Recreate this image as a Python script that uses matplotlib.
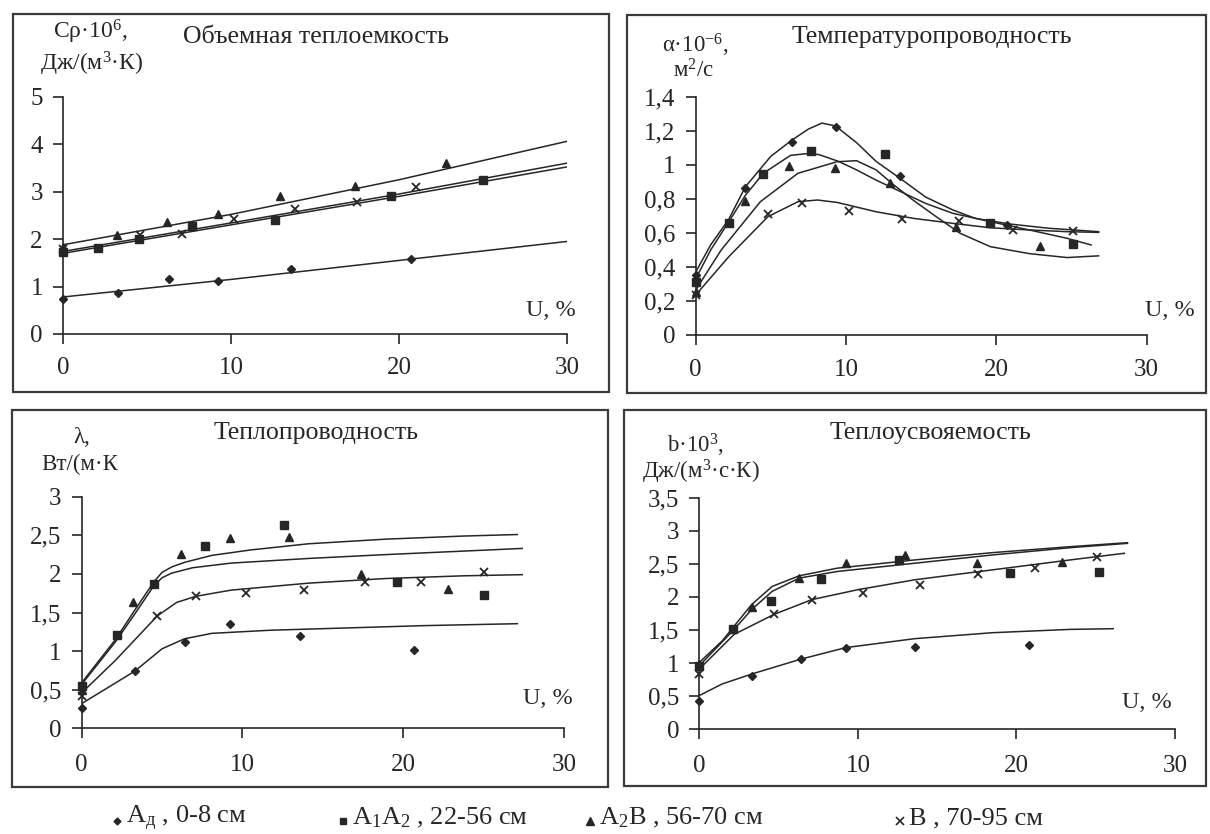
import matplotlib
matplotlib.use('Agg')
import matplotlib.pyplot as plt
from matplotlib.patches import Rectangle

plt.rcParams['font.family'] = ['Liberation Serif', 'DejaVu Serif']
plt.rcParams['mathtext.fontset'] = 'custom'
plt.rcParams['mathtext.rm'] = 'Liberation Serif'
plt.rcParams['mathtext.it'] = 'Liberation Serif'
plt.rcParams['mathtext.bf'] = 'Liberation Serif:bold'

# ---------------- data ----------------
# Panel 1: volumetric heat capacity
cp_u_d = [0, 3.3, 6.3, 9.2, 13.6, 20.7]
cp_v_d = [0.74, 0.86, 1.16, 1.11, 1.37, 1.57]
cp_u_s = [0, 2.1, 4.5, 7.7, 12.6, 19.5, 25.0]
cp_v_s = [1.73, 1.81, 2.0, 2.28, 2.40, 2.90, 3.25]
cp_u_t = [0, 3.2, 6.2, 9.2, 12.9, 17.4, 22.8]
cp_v_t = [1.84, 2.08, 2.37, 2.53, 2.91, 3.11, 3.60]
cp_u_x = [0, 4.6, 7.1, 10.2, 13.8, 17.5, 21.0]
cp_v_x = [1.79, 2.08, 2.11, 2.43, 2.64, 2.78, 3.09]
cp_fit_u = [0, 10, 20, 30]
cp_fit_d = [0.78, 1.15, 1.55, 1.95]
cp_fit_s = [1.70, 2.30, 2.90, 3.52]
cp_fit_t = [1.88, 2.52, 3.25, 4.06]
cp_fit_x = [1.74, 2.34, 2.95, 3.60]

# Panel 2: thermal diffusivity
a_u_d = [0, 3.3, 6.4, 9.3, 13.6, 20.7]
a_v_d = [0.35, 0.865, 1.136, 1.224, 0.936, 0.646]
a_u_s = [0, 2.2, 4.5, 7.7, 12.6, 19.6, 25.1]
a_v_s = [0.31, 0.656, 0.946, 1.083, 1.063, 0.66, 0.535]
a_u_t = [0, 3.25, 6.2, 9.25, 12.9, 17.3, 22.9]
a_v_t = [0.255, 0.787, 0.99, 0.98, 0.895, 0.636, 0.52]
a_u_x = [0, 4.8, 7.1, 10.2, 13.75, 17.5, 21.1, 25.1]
a_v_x = [0.235, 0.71, 0.777, 0.73, 0.68, 0.67, 0.617, 0.613]
a_fit_d_u = [0, 1, 2.2, 3.3, 5.0, 6.4, 7.5, 8.4, 9.3, 10.7, 12.0, 13.6, 15.3, 17.1, 18.6, 20.9, 23.5, 26.8]
a_fit_d_v = [0.37, 0.53, 0.68, 0.87, 1.05, 1.145, 1.21, 1.245, 1.228, 1.13, 1.02, 0.92, 0.81, 0.735, 0.685, 0.652, 0.627, 0.607]
a_fit_s_u = [0, 1, 2.2, 3.3, 4.5, 6.3, 7.3, 8.2, 9.5, 10.7, 12.0, 13.2, 15.3, 17.1, 19.6, 22.2, 24.7, 26.3]
a_fit_s_v = [0.33, 0.50, 0.665, 0.82, 0.95, 1.055, 1.065, 1.06, 1.02, 0.97, 0.91, 0.86, 0.773, 0.715, 0.666, 0.617, 0.568, 0.529]
a_fit_t_u = [0, 1.7, 4.3, 6.8, 9.4, 10.7, 12.0, 13.2, 14.5, 16.0, 17.6, 19.6, 22.2, 24.7, 26.8]
a_fit_t_v = [0.264, 0.5, 0.783, 0.95, 1.018, 1.024, 0.97, 0.88, 0.79, 0.695, 0.597, 0.519, 0.478, 0.455, 0.465]
a_fit_x_u = [0, 2.2, 4.8, 6.8, 8.1, 9.4, 12.0, 14.5, 17.1, 19.6, 22.2, 24.7, 26.8]
a_fit_x_v = [0.235, 0.46, 0.695, 0.783, 0.793, 0.779, 0.724, 0.685, 0.656, 0.63, 0.617, 0.607, 0.603]

# Panel 3: thermal conductivity
l_u_d = [0, 3.3, 6.4, 9.25, 13.6, 20.7]
l_v_d = [0.26, 0.74, 1.12, 1.35, 1.19, 1.01]
l_u_s = [0, 2.2, 4.5, 7.7, 12.6, 19.6, 25.0]
l_v_s = [0.55, 1.21, 1.875, 2.36, 2.635, 1.90, 1.73]
l_u_t = [0, 3.2, 6.2, 9.25, 12.9, 17.4, 22.8]
l_v_t = [0.50, 1.64, 2.26, 2.47, 2.48, 2.0, 1.81]
l_u_x = [0, 4.7, 7.1, 10.25, 13.8, 17.6, 21.1, 25.0]
l_v_x = [0.42, 1.455, 1.71, 1.755, 1.79, 1.90, 1.90, 2.03]
l_fit_t_u = [0, 2.1, 3.3, 4.5, 5.0, 5.6, 6.4, 8.1, 10.5, 14.1, 18.9, 23.7, 27.1]
l_fit_t_v = [0.59, 1.15, 1.53, 1.90, 2.02, 2.09, 2.15, 2.24, 2.31, 2.39, 2.45, 2.49, 2.51]
l_fit_s_u = [0, 2.1, 3.3, 4.5, 5.0, 5.6, 6.9, 9.3, 14.1, 18.9, 23.7, 27.4]
l_fit_s_v = [0.57, 1.12, 1.48, 1.85, 1.95, 2.01, 2.08, 2.14, 2.20, 2.25, 2.295, 2.33]
l_fit_x_u = [0, 2.1, 4.7, 5.9, 7.1, 9.3, 14.1, 18.9, 23.7, 27.4]
l_fit_x_v = [0.46, 0.88, 1.455, 1.63, 1.71, 1.79, 1.88, 1.94, 1.975, 1.99]
l_fit_d_u = [0, 3.3, 5.0, 6.4, 8.1, 11.7, 16.5, 21.3, 27.1]
l_fit_d_v = [0.32, 0.74, 1.03, 1.16, 1.23, 1.27, 1.30, 1.33, 1.355]

# Panel 4: thermal effusivity
b_u_d = [0, 3.3, 6.4, 9.25, 13.6, 20.8]
b_v_d = [0.435, 0.81, 1.06, 1.23, 1.245, 1.27]
b_u_s = [0, 2.1, 4.5, 7.7, 12.6, 19.6, 25.2]
b_v_s = [0.96, 1.51, 1.945, 2.275, 2.56, 2.36, 2.38]
b_u_t = [0, 3.3, 6.3, 9.25, 12.95, 17.5, 22.9]
b_v_t = [0.98, 1.85, 2.285, 2.51, 2.635, 2.51, 2.535]
b_u_x = [0, 4.7, 7.1, 10.3, 13.9, 17.6, 21.2, 25.1]
b_v_x = [0.835, 1.735, 1.96, 2.06, 2.185, 2.345, 2.435, 2.605]
b_fit_t_u = [0, 1.44, 2.2, 3.3, 4.6, 6.3, 8.7, 13.6, 18.5, 23.4, 27.0]
b_fit_t_v = [1.01, 1.335, 1.56, 1.885, 2.16, 2.32, 2.435, 2.56, 2.67, 2.76, 2.82]
b_fit_s_u = [0, 2.2, 3.3, 4.6, 6.3, 8.7, 13.6, 18.5, 23.4, 27.0]
b_fit_s_v = [0.96, 1.51, 1.81, 2.085, 2.285, 2.385, 2.51, 2.635, 2.745, 2.81]
b_fit_x_u = [0, 2.2, 4.7, 7.1, 10.0, 13.6, 18.5, 23.4, 26.8]
b_fit_x_v = [0.91, 1.435, 1.735, 1.96, 2.11, 2.26, 2.41, 2.56, 2.66]
b_fit_d_u = [0, 1.44, 3.3, 6.4, 9.25, 13.6, 18.5, 23.4, 26.1]
b_fit_d_v = [0.51, 0.685, 0.835, 1.06, 1.235, 1.37, 1.46, 1.51, 1.52]

x_ticks = [0, 10, 20, 30]
cp_ticks = [0, 1, 2, 3, 4, 5]
cp_labels = ['0', '1', '2', '3', '4', '5']
a_ticks = [0, 0.2, 0.4, 0.6, 0.8, 1.0, 1.2, 1.4]
a_labels = ['0', '0,2', '0,4', '0,6', '0,8', '1', '1,2', '1,4']
l_ticks = [0, 0.5, 1, 1.5, 2, 2.5, 3]
l_labels = ['0', '0,5', '1', '1,5', '2', '2,5', '3']
b_ticks = [0, 0.5, 1, 1.5, 2, 2.5, 3, 3.5]
b_labels = ['0', '0,5', '1', '1,5', '2', '2,5', '3', '3,5']

legend_labels = [r'A$_{\mathrm{д}}$ , 0-8 см', r'A$_{1}$A$_{2}$ , 22-56 см',
                 r'A$_{2}$B , 56-70 см', r'B , 70-95 см']

# ---------------- drawing ----------------
INK = '#262626'
W, H = 1210, 834
fig = plt.figure(figsize=(12.1, 8.34), dpi=100)


def fx(px):
    return px / W


def fy(py):
    return 1 - py / H


def frame(x0, y0, x1, y1):
    fig.patches.append(Rectangle((fx(x0), fy(y1)), fx(x1) - fx(x0), fy(y0) - fy(y1),
                                 transform=fig.transFigure, fill=False,
                                 edgecolor='#3a3a3a', linewidth=1.6))


def make_axes(px0, px30, py0, pytop, ytop, yticks, ylabels, xpad):
    ax = fig.add_axes([fx(px0), fy(py0), fx(px30) - fx(px0), fy(pytop) - fy(py0)])
    ax.set_xlim(0, 30)
    ax.set_ylim(0, ytop)
    ax.patch.set_alpha(0)
    for s in ['top', 'right']:
        ax.spines[s].set_visible(False)
    for s in ['left', 'bottom']:
        ax.spines[s].set_color(INK)
        ax.spines[s].set_linewidth(1.2)
    ax.set_xticks(x_ticks)
    ax.set_xticklabels([str(t) for t in x_ticks])
    ax.set_yticks(yticks)
    ax.set_yticklabels(ylabels)
    ax.tick_params(axis='both', direction='out', length=7, width=1.2, color=INK,
                   labelsize=18, labelcolor=INK)
    ax.tick_params(axis='x', pad=xpad)
    ax.tick_params(axis='y', pad=7.5)
    return ax


def series(ax, u, v, marker, ms):
    kw = dict(color=INK, linestyle='none', marker=marker, markersize=ms,
              clip_on=False, zorder=5)
    if marker == 'x':
        kw['markeredgewidth'] = 1.3
    ax.plot(u, v, **kw)


def curve(ax, u, v):
    ax.plot(u, v, color=INK, linewidth=1.1, zorder=3, solid_joinstyle='round')


MS = {'D': 4.5, 's': 5.5, '^': 6.0, 'x': 6.0}

# frames
frame(12.7, 14, 609, 392)
frame(627, 15, 1206, 393)
frame(11.7, 410, 608, 787)
frame(624, 410, 1206, 786)

# Panel 1
ax1 = make_axes(63, 567, 334, 96.7, 5, cp_ticks, cp_labels, 9.5)
for fv in [cp_fit_d, cp_fit_s, cp_fit_t, cp_fit_x]:
    curve(ax1, cp_fit_u, fv)
series(ax1, cp_u_d, cp_v_d, 'D', MS['D'])
series(ax1, cp_u_s, cp_v_s, 's', MS['s'])
series(ax1, cp_u_t, cp_v_t, '^', MS['^'])
series(ax1, cp_u_x, cp_v_x, 'x', MS['x'])

# Panel 2
ax2 = make_axes(695.7, 1146.7, 335, 96.7, 1.4, a_ticks, a_labels, 10.5)
curve(ax2, a_fit_d_u, a_fit_d_v)
curve(ax2, a_fit_s_u, a_fit_s_v)
curve(ax2, a_fit_t_u, a_fit_t_v)
curve(ax2, a_fit_x_u, a_fit_x_v)
series(ax2, a_u_d, a_v_d, 'D', MS['D'])
series(ax2, a_u_s, a_v_s, 's', MS['s'])
series(ax2, a_u_t, a_v_t, '^', MS['^'])
series(ax2, a_u_x, a_v_x, 'x', MS['x'])

# Panel 3
ax3 = make_axes(81.7, 564, 728.3, 496.7, 3, l_ticks, l_labels, 11.5)
curve(ax3, l_fit_t_u, l_fit_t_v)
curve(ax3, l_fit_s_u, l_fit_s_v)
curve(ax3, l_fit_x_u, l_fit_x_v)
curve(ax3, l_fit_d_u, l_fit_d_v)
series(ax3, l_u_d, l_v_d, 'D', MS['D'])
series(ax3, l_u_s, l_v_s, 's', MS['s'])
series(ax3, l_u_t, l_v_t, '^', MS['^'])
series(ax3, l_u_x, l_v_x, 'x', MS['x'])

# Panel 4
ax4 = make_axes(699.3, 1175, 729.3, 497.7, 3.5, b_ticks, b_labels, 11.5)
curve(ax4, b_fit_t_u, b_fit_t_v)
curve(ax4, b_fit_s_u, b_fit_s_v)
curve(ax4, b_fit_x_u, b_fit_x_v)
curve(ax4, b_fit_d_u, b_fit_d_v)
series(ax4, b_u_d, b_v_d, 'D', MS['D'])
series(ax4, b_u_s, b_v_s, 's', MS['s'])
series(ax4, b_u_t, b_v_t, '^', MS['^'])
series(ax4, b_u_x, b_v_x, 'x', MS['x'])


def txt(px, py, s, size=17, ha='left'):
    fig.text(fx(px), fy(py), s, fontsize=size, color=INK, ha=ha, va='center')


# titles
txt(316, 37, 'Объемная теплоемкость', 18.6, 'center')
txt(932, 37, 'Температуропроводность', 18.6, 'center')
txt(316, 433, 'Теплопроводность', 18.6, 'center')
txt(930, 433, 'Теплоусвояемость', 18.6, 'center')

# y labels
txt(53, 32, r'Cρ·10$^{6}$,', 17)
txt(40, 64, r'Дж/(м$^{3}$·К)', 17)
txt(662, 45, r'α·10$^{-6}$,', 16.5)
txt(673, 71, r'м$^{2}$/с', 16.5)
txt(73, 438, 'λ,', 16.5)
txt(41, 464, 'Вт/(м·К', 16.5)
txt(667, 445, r'b·10$^{3}$,', 16.5)
txt(642, 472, r'Дж/(м$^{3}$·с·К)', 16.5)

# U, % labels
txt(526, 310, 'U, %', 17.5)
txt(1145, 311, 'U, %', 17.5)
txt(523, 698, 'U, %', 17.5)
txt(1122, 703, 'U, %', 17.5)

# legend
lax = fig.add_axes([0, 0, 1, 1])
lax.set_xlim(0, W)
lax.set_ylim(H, 0)
lax.axis('off')
leg_x = [117, 343, 590, 900]
leg_m = ['D', 's', '^', 'x']
leg_ms = [3.5, 4.0, 5.5, 5.5]
for x, m, ms, lab in zip(leg_x, leg_m, leg_ms, legend_labels):
    kw = dict(color=INK, linestyle='none', marker=m, markersize=ms)
    if m == 'x':
        kw['markeredgewidth'] = 1.2
    lax.plot([x], [821], **kw)
    txt(x + 9, 818, lab, 19)

fig.savefig('out.png', dpi=100)
